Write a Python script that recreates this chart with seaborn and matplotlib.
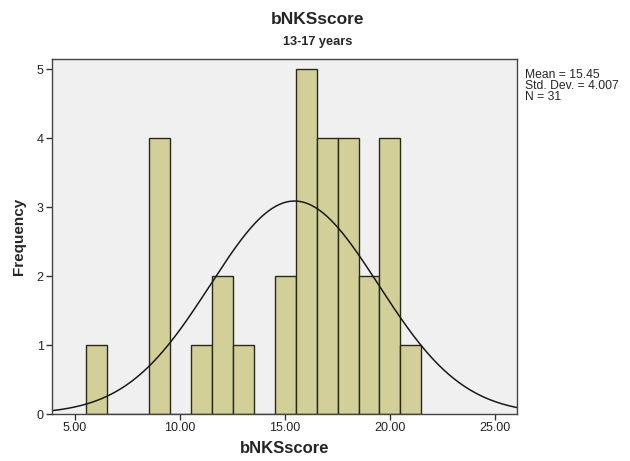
import numpy as np
import pandas as pd
import matplotlib
matplotlib.use("Agg")
import matplotlib.pyplot as plt
import seaborn as sns

scores = [6, 9, 11, 12, 13, 15, 16, 17, 18, 19, 20, 21]
counts = [1, 4, 1, 2, 1, 2, 5, 4, 4, 2, 4, 1]
mean_val = 15.45
sd_val = 4.007
n_val = 31
xticks = [5, 10, 15, 20, 25]
yticks = [0, 1, 2, 3, 4, 5]

sns.set_style("white")
plt.rcParams['font.family'] = ['Liberation Sans', 'DejaVu Sans']

fig = plt.figure(figsize=(6.3, 4.61), dpi=100)
ax = fig.add_axes([52/630, 1-414/461, (517-52)/630, (414-59)/461])
ax.set_facecolor('#f0f0f0')

df = pd.DataFrame({"score": scores, "count": counts})
sns.histplot(data=df, x="score", weights="count", binwidth=1, binrange=(5.5, 21.5),
             color='#d3cf99', edgecolor='#2a2a1a', linewidth=1.0, alpha=1.0, ax=ax)

xs = np.linspace(3.9, 26.05, 400)
ys = n_val * 1.0 / (sd_val * np.sqrt(2 * np.pi)) * np.exp(-0.5 * ((xs - mean_val) / sd_val) ** 2)
sns.lineplot(x=xs, y=ys, color='#1a1a1a', linewidth=1.1, ax=ax)

ax.set_xlim(3.9, 26.05)
ax.set_ylim(0, 5.145)
ax.set_xticks(xticks)
ax.set_xticklabels([f"{t:.2f}" for t in xticks], fontsize=9, color='#222222')
ax.set_yticks(yticks)
ax.set_yticklabels([str(t) for t in yticks], fontsize=9, color='#222222')
ax.tick_params(axis='both', direction='out', length=4, width=1, color='#333333', pad=2,
               bottom=True, left=True, top=False, right=False)
for s in ax.spines.values():
    s.set_color('#444444')
    s.set_linewidth(1.0)

ax.set_xlabel("bNKSscore", fontsize=12, fontweight='bold', labelpad=5)
ax.set_ylabel("Frequency", fontsize=11, fontweight='bold', labelpad=8)

fig.text(318/630, 1-19/461, "bNKSscore", ha='center', va='center', fontsize=12.5, fontweight='bold')
fig.text(318/630, 1-42/461, "13-17 years", ha='center', va='center', fontsize=9.2, fontweight='bold')

fig.text(525/630, 1-86/461, f"Mean = {mean_val:.2f}\nStd. Dev. = {sd_val:.3f}\nN = {n_val}",
         ha='left', va='center', fontsize=8.7, linespacing=0.85)

fig.savefig("out.png", dpi=100)
